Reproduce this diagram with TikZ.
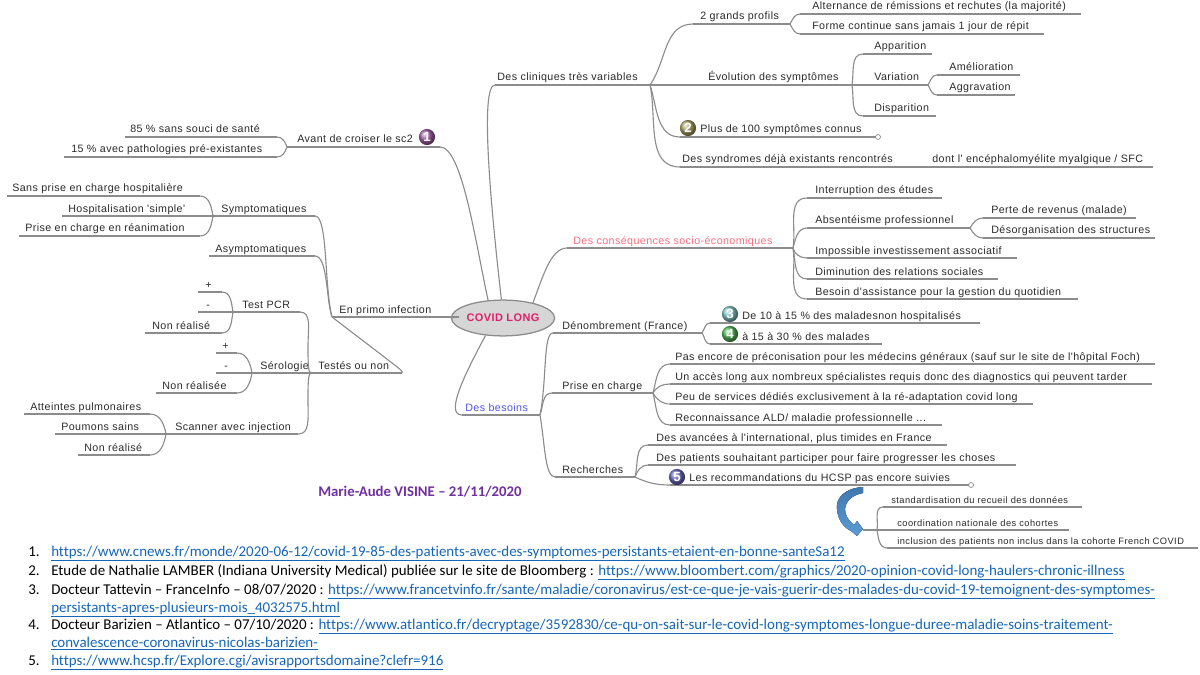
\documentclass[tikz,border=0pt]{standalone}
\usepackage{fontspec}
\usetikzlibrary{shapes.geometric}
\newfontfamily\mapfont[LetterSpace=4]{Liberation Sans}
\newfontfamily\smallfont[LetterSpace=5]{Liberation Sans}
\newfontfamily\notefont[Ligatures={NoCommon}]{Carlito}
\definecolor{linegrey}{HTML}{8C8C8C}
\definecolor{textgrey}{HTML}{2A2A2A}
\definecolor{pinktopic}{HTML}{F76F80}
\definecolor{bluetopic}{HTML}{5252EA}
\definecolor{rootpink}{HTML}{E0206A}
\definecolor{linkblue}{HTML}{1565B8}
\definecolor{signpurple}{HTML}{7030A0}
\definecolor{arrowtop}{HTML}{3F78AD}
\definecolor{arrowbot}{HTML}{5B9BD5}
\definecolor{ballun}{HTML}{A565A8}
\definecolor{balldeux}{HTML}{B0A66C}
\definecolor{balltrois}{HTML}{86CACB}
\definecolor{ballquatre}{HTML}{55BC5A}
\definecolor{ballcinq}{HTML}{7070C4}
\tikzset{
  lbl/.style = {font = \mapfont\fontsize{7.6}{9}\selectfont, text = textgrey, inner sep = 0pt},
  lblpink/.style = {lbl, text = pinktopic},
  lblblue/.style = {lbl, text = bluetopic},
  lblsmall/.style = {font = \smallfont\fontsize{6.6}{8}\selectfont, text = textgrey, inner sep = 0pt},
  under/.style = {draw = linegrey, line width = 0.8pt},
  branch/.style = {draw = linegrey, line width = 0.8pt},
  ballmark/.style = {circle, minimum size = 11.5pt, inner sep = 0pt, shading = ball, text = white,
                     font = \mapfont\bfseries\fontsize{9.5}{9.5}\selectfont},
  endmark/.style = {circle, draw = linegrey, fill = white, minimum size = 3.5pt, inner sep = 0pt, line width = 0.5pt},
  note/.style = {font = \notefont\fontsize{10.63}{12}\selectfont, text = black, inner sep = 0pt, anchor = base west},
}
% name, left end, right end, line height, text start, text
\newcommand{\topic}[7][lbl]{
  \coordinate (#2-l) at (#3, #5);
  \coordinate (#2-r) at (#4, #5);
  \draw [under] (#2-l) -- (#2-r);
  \node [#1, anchor = base west] (#2) at (#6, #5 - 4) {#7};
}
\newcommand{\lnk}[1]{\textcolor{linkblue}{\underline{#1}}}
\begin{document}
\begin{tikzpicture}[x = 0.025cm, y = -0.025cm]
  \useasboundingbox (0, 0) rectangle (1200, 675);
  % root
  \node [ellipse, draw = linegrey, fill = black!16, line width = 0.9pt, minimum width = 61pt, minimum height = 25.5pt,
         inner sep = 0pt, text = rootpink, font = \mapfont\bfseries\fontsize{7.8}{9}\selectfont] (covid) at (503, 318) {COVID LONG};

  % left side
  \topic{avant}{287}{440}{147}{297}{Avant de croiser le sc2}
  \topic{sain}{125}{277}{137}{130}{85 \% sans souci de santé}
  \topic{patho}{64}{277}{157}{71}{15 \% avec pathologies pré-existantes}
  \topic{primo}{332}{459}{317}{339}{En primo infection}
  \topic{sympto}{213}{315}{216}{221}{Symptomatiques}
  \topic{sanspec}{7}{200}{196}{12}{Sans prise en charge hospitalière}
  \topic{hospi}{62}{213}{216}{68}{Hospitalisation 'simple'}
  \topic{reanim}{19}{200}{236}{25}{Prise en charge en réanimation}
  \topic{asympto}{209}{315}{256}{215}{Asymptomatiques}
  \topic{testes}{311}{402}{373}{318}{Testés ou non}
  \topic{pcr}{233}{300}{312}{242}{Test PCR}
  \topic{pcrplus}{198}{222}{292}{205}{+}
  \topic{pcrmoins}{198}{233}{312}{206}{-}
  \topic{pcrnon}{145}{222}{333}{152}{Non réalisé}
  \topic{sero}{252}{311}{373}{260}{Sérologie}
  \topic{seroplus}{216}{237}{353}{222}{+}
  \topic{seromoins}{216}{252}{373}{224}{-}
  \topic{seronon}{156}{237}{393}{162}{Non réalisée}
  \topic{scan}{166}{298}{434}{175}{Scanner avec injection}
  \topic{atteint}{24}{150}{414}{30}{Atteintes pulmonaires}
  \topic{poumon}{55}{166}{434}{61}{Poumons sains}
  \topic{scannon}{78}{150}{455}{84}{Non réalisé}

  % upper right
  \topic{clin}{495}{650}{85}{497}{Des cliniques très variables}
  \topic{profil}{693}{790}{24}{700}{2 grands profils}
  \topic{altern}{800}{1081}{14}{812}{Alternance de rémissions et rechutes (la majorité)}
  \topic{forme}{800}{1044}{34}{812}{Forme continue sans jamais 1 jour de répit}
  \topic{evol}{650}{852}{85}{708}{Évolution des symptômes}
  \topic{appar}{863}{932}{54}{874}{Apparition}
  \topic{varia}{852}{928}{85}{874}{Variation}
  \topic{dispar}{863}{936}{116}{874}{Disparition}
  \topic{amel}{937}{1020}{75}{949}{Amélioration}
  \topic{aggr}{937}{1015}{95}{949}{Aggravation}
  \topic{plus}{680}{875}{137}{700}{Plus de 100 symptômes connus}
  \topic{syndr}{680}{1153}{167}{682}{Des syndromes déjà existants rencontrés}
  \node [lbl, anchor = base west] (encepha) at (932, 163) {dont l' encéphalomyélite myalgique / SFC};

  % middle right
  \topic[lblpink]{conseq}{567}{793}{248}{573}{Des conséquences socio-économiques}
  \topic{interr}{807}{942}{198}{815}{Interruption des études}
  \topic{absent}{807}{970}{228}{815}{Absentéisme professionnel}
  \topic{perte}{983}{1136}{218}{991}{Perte de revenus (malade)}
  \topic{desorg}{983}{1155}{238}{991}{Désorganisation des structures}
  \topic{associ}{807}{1017}{258}{815}{Impossible investissement associatif}
  \topic{dimin}{807}{998}{279}{815}{Diminution des relations sociales}
  \topic{assist}{807}{1078}{299}{815}{Besoin d'assistance pour la gestion du quotidien}

  % lower right
  \topic[lblblue]{besoin}{462}{540}{415}{465}{Des besoins}
  \topic{denomb}{553}{702}{333}{562}{Dénombrement (France)}
  \topic{dixa}{710}{980}{323}{742}{De 10 à 15 \% des maladesnon hospitalisés}
  \topic{quinze}{710}{882}{344}{742}{à 15 à 30 \% des malades}
  \topic{prise}{552}{653}{393}{562}{Prise en charge}
  \topic{preco}{670}{1155}{364}{675}{Pas encore de préconisation pour les médecins généraux (sauf sur le site de l'hôpital Foch)}
  \topic{acces}{670}{1152}{384}{675}{Un accès long aux nombreux spécialistes requis donc des diagnostics qui peuvent tarder}
  \topic{service}{670}{1033}{404}{675}{Peu de services dédiés exclusivement à la ré-adaptation covid long}
  \topic{ald}{670}{942}{425}{675}{Reconnaissance ALD/ maladie professionnelle ...}
  \topic{rech}{555}{635}{477}{562}{Recherches}
  \topic{avance}{648}{947}{445}{656}{Des avancées à l'international, plus timides en France}
  \topic{souhait}{648}{1016}{465}{656}{Des patients souhaitant participer pour faire progresser les choses}
  \topic{recom}{670}{968}{485}{689}{Les recommandations du HCSP pas encore suivies}
  \topic[lblsmall]{standa}{883}{1082}{507}{891}{standardisation du recueil des données}
  \topic[lblsmall]{coord}{863}{1069}{530}{897}{coordination nationale des cohortes}
  \topic[lblsmall]{inclus}{887}{1198}{548}{897}{inclusion des patients non inclus dans la cohorte French COVID}

  % connectors to the root
  \draw [branch] (covid.130) .. controls (475, 240) and (462, 147) .. (avant-r);
  \draw [branch] (covid.180) -- (primo-r);
  \draw [branch] (covid.95) .. controls (490, 200) and (480, 85) .. (clin-l);
  \draw [branch] (covid.27) .. controls (542, 280) and (550, 248) .. (conseq-l);
  \draw [branch] (covid.225) .. controls (466, 372) and (444, 415) .. (besoin-l);

  % left curves
  \foreach \hub/\kid/\ang in {avant-l/sain-r/110, avant-l/patho-r/-110, sympto-l/sanspec-r/100, sympto-l/reanim-r/-100,
                              pcr-l/pcrplus-r/100, pcr-l/pcrnon-r/-100, sero-l/seroplus-r/100, sero-l/seronon-r/-100,
                              scan-l/atteint-r/100, scan-l/scannon-r/-100}
    \draw [branch] (\hub) to [out = \ang, in = 0] (\kid);
  \draw [branch] (sympto-r) .. controls (328, 216) and (324, 285) .. (primo-l);
  \draw [branch] (asympto-r) .. controls (328, 256) and (326, 300) .. (primo-l);
  \draw [branch] (primo-l) -- (396, 366) .. controls (401, 370) and (403, 372) .. (testes-r);
  \draw [branch] (pcr-r) .. controls (312, 312) and (308, 330) .. (308, 345) .. controls (308, 362) and (308, 373) .. (testes-l);
  \draw [branch] (scan-r) .. controls (310, 434) and (308, 420) .. (308, 400) .. controls (308, 385) and (308, 373) .. (testes-l);

  % right curves
  \foreach \hub/\kid/\ang in {clin-r/profil-l/55, profil-r/altern-l/60, profil-r/forme-l/-60, evol-r/appar-l/80, evol-r/dispar-l/-80,
                              varia-r/amel-l/60, varia-r/aggr-l/-60, clin-r/plus-l/-72, clin-r/syndr-l/-78,
                              conseq-r/interr-l/80, conseq-r/absent-l/75, conseq-r/associ-l/-75, conseq-r/dimin-l/-78, conseq-r/assist-l/-80,
                              absent-r/perte-l/60, absent-r/desorg-l/-60, besoin-r/prise-l/70,
                              denomb-r/dixa-l/55, denomb-r/quinze-l/-55, prise-r/preco-l/75, prise-r/acces-l/60, prise-r/service-l/-60, prise-r/ald-l/-75,
                              rech-r/avance-l/75, rech-r/souhait-l/70, rech-r/recom-l/-25}
    \draw [branch] (\hub) to [out = \ang, in = 180] (\kid);
  \draw [branch] (besoin-r) .. controls (547, 380) and (543, 333) .. (denomb-l);
  \draw [branch] (besoin-r) .. controls (545, 445) and (545, 477) .. (rech-l);
  \coordinate (coordhub) at (877, 530);
  \draw [branch] (coordhub) to [out = 80, in = 180] (standa-l);
  \draw [branch] (coordhub) to [out = -80, in = 180] (inclus-l);

  % free ends
  \node [endmark] (plusend) at (878, 137) {};
  \node [endmark] (recomend) at (971, 485) {};
  \draw [branch] (plus-r) -- (plusend);
  \draw [branch] (recom-r) -- (recomend);

  % numbered marks
  \node [ballmark, ball color = ballun] (markun) at (427, 137) {1};
  \node [ballmark, ball color = balldeux] (markdeux) at (688, 128) {2};
  \node [ballmark, ball color = balltrois] (marktrois) at (730, 314) {3};
  \node [ballmark, ball color = ballquatre] (markquatre) at (730, 334) {4};
  \node [ballmark, ball color = ballcinq] (markcinq) at (677, 477) {5};

  % bent arrow
  \fill [top color = arrowtop, bottom color = arrowbot]
    (863, 487) .. controls (845, 488) and (835, 498) .. (837, 510) .. controls (838, 520) and (844, 528) .. (851, 531)
    -- (857, 536) -- (863, 529) -- (857, 521) -- (854, 525) .. controls (848, 520) and (845, 515) .. (845, 509) .. controls (846, 500) and (853, 495) .. (863, 493) -- cycle;

  \node [font = \notefont\bfseries\fontsize{10.5}{12}\selectfont, text = signpurple, inner sep = 0pt, anchor = base west] (sign) at (318, 496) {Marie-Aude VISINE – 21/11/2020};

  % references
  \foreach \num/\yy in {1/556, 2/575, 3/594, 4/629, 5/665}
    \node [note] (num\num) at (28, \yy) {\num.};
  \node [note] (refa) at (51, 556) {\lnk{https://www.cnews.fr/monde/2020-06-12/covid-19-85-des-patients-avec-des-symptomes-persistants-etaient-en-bonne-santeSa12}};
  \node [note] (refb) at (51, 575) {Etude de Nathalie LAMBER (Indiana University Medical) publiée sur le site de Bloomberg : \lnk{https://www.bloombert.com/graphics/2020-opinion-covid-long-haulers-chronic-illness}};
  \node [note] (refc) at (51, 594) {Docteur Tattevin – FranceInfo – 08/07/2020 : \lnk{https://www.francetvinfo.fr/sante/maladie/coronavirus/est-ce-que-je-vais-guerir-des-malades-du-covid-19-temoignent-des-symptomes-}};
  \node [note] (refcc) at (51, 612) {\lnk{persistants-apres-plusieurs-mois\_4032575.html}};
  \node [note] (refd) at (51, 629) {Docteur Barizien – Atlantico – 07/10/2020 : \lnk{https://www.atlantico.fr/decryptage/3592830/ce-qu-on-sait-sur-le-covid-long-symptomes-longue-duree-maladie-soins-traitement-}};
  \node [note] (refdd) at (51, 647) {\lnk{convalescence-coronavirus-nicolas-barizien-}};
  \node [note] (refe) at (51, 665) {\lnk{https://www.hcsp.fr/Explore.cgi/avisrapportsdomaine?clefr=916}};
\end{tikzpicture}
\end{document}
